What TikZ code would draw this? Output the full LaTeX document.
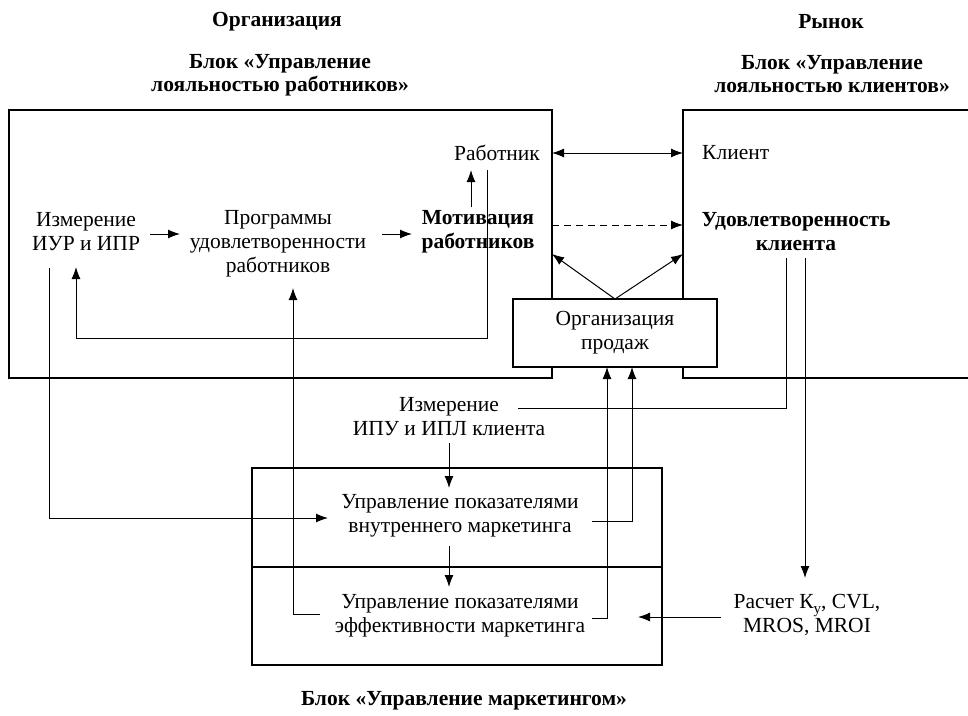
\documentclass[tikz,border=0pt]{standalone}
\usepackage{fontspec}
\setmainfont{Liberation Serif}
\usetikzlibrary{arrows.meta}
\begin{document}
\begin{tikzpicture}[x=1pt,y=-1pt,
  every node/.style={font=\fontsize{21.5}{24}\selectfont, align=center, inner sep=0pt},
  title/.style={font=\fontsize{21.5}{23}\selectfont\bfseries},
  bold/.style={font=\fontsize{21.5}{24}\selectfont\bfseries},
  frame/.style={draw, line width=1.1pt},
  ln/.style={draw, line width=1pt},
  arr/.style={line width=1pt, -{Latex[length=12pt,width=9pt]}},
  darr/.style={line width=1pt, {Latex[length=12pt,width=9pt]}-{Latex[length=12pt,width=9pt]}}]
\useasboundingbox[fill=white] (0,0) rectangle (968,715);

% titles
\node[title] (torg) at (277,22) {Организация};
\node[title] (tblk1) at (280,75) {Блок «Управление\\лояльностью работников»};
\node[title] (trynok) at (831,22) {Рынок};
\node[title] (tblk2) at (832,74) {Блок «Управление\\лояльностью клиентов»};
\node[title] (tblk3) at (464,701) {Блок «Управление маркетингом»};

% big frames
\draw[frame] (9,110) rectangle (552,378);
\draw[frame] (968,110) -- (683,110) -- (683,378) -- (968,378);
\draw[frame] (252,468) rectangle (662,665);
\draw[frame] (252,567) -- (662,567);

% organisation of sales
\node[frame, fill=white, minimum width=204pt, minimum height=68pt] (org) at (615,333) {Организация\\продаж};

% text nodes
\node (izm1) at (86,232) {Измерение\\ИУР и ИПР};
\node (prog) at (278,244) {Программы\\удовлетворенности\\работников};
\node[bold] (motiv) at (478,232) {Мотивация\\работников};
\node (rab) at (497,153) {Работник};
\node[anchor=west] (klient) at (702,153) {Клиент};
\node[bold] (udov) at (796,232) {Удовлетворенность\\клиента};
\node (izm2) at (449,417) {Измерение\\ИПУ и ИПЛ клиента};
\node (upr1) at (460,516) {Управление показателями\\внутреннего маркетинга};
\node (upr2) at (460,616) {Управление показателями\\эффективности маркетинга};
\node (rasch) at (807,615) {Расчет К{\fontsize{15}{15}\selectfont\raisebox{-5pt}{у}}, CVL,\\MROS, MROI};

% coordinates
\coordinate (a1) at (150,234); \coordinate (a2) at (180,234);
\coordinate (b1) at (382,234); \coordinate (b2) at (412,234);
\coordinate (c1) at (471,207); \coordinate (c2) at (471,170);
\coordinate (d1) at (487,170); \coordinate (d2) at (487,338); \coordinate (d3) at (76,338); \coordinate (d4) at (76,267);
\coordinate (e1) at (49,268); \coordinate (e2) at (49,518); \coordinate (e3) at (328,518);
\coordinate (f1) at (320,614); \coordinate (f2) at (293,614); \coordinate (f3) at (293,288);
\coordinate (g1) at (552,153); \coordinate (g2) at (683,153);
\coordinate (h1) at (552,225); \coordinate (h2) at (683,225);
\coordinate (i0) at (615,299); \coordinate (i1) at (552,254); \coordinate (i2) at (683,254);
\coordinate (j1) at (449,443); \coordinate (j2) at (449,488);
\coordinate (k1) at (449,546); \coordinate (k2) at (449,587);
\coordinate (l1) at (786,258); \coordinate (l2) at (786,408); \coordinate (l3) at (518,408);
\coordinate (m1) at (805,258); \coordinate (m2) at (805,578);
\coordinate (n1) at (592,521); \coordinate (n2) at (632,521); \coordinate (n3) at (632,367);
\coordinate (o1) at (592,618); \coordinate (o2) at (607,618); \coordinate (o3) at (607,367);
\coordinate (p1) at (721,617); \coordinate (p2) at (638,617);

% connectors
\draw[arr] (a1) -- (a2);
\draw[arr] (b1) -- (b2);
\draw[arr] (c1) -- (c2);
\draw[arr] (d1) -- (d2) -- (d3) -- (d4);
\draw[arr] (e1) -- (e2) -- (e3);
\draw[arr] (f1) -- (f2) -- (f3);
\draw[darr] (g1) -- (g2);
\draw[arr, dashed, dash pattern=on 7pt off 5pt] (h1) -- (h2);
\draw[arr] (i0) -- (i1);
\draw[arr] (i0) -- (i2);
\draw[arr] (j1) -- (j2);
\draw[arr] (k1) -- (k2);
\draw[ln] (l1) -- (l2) -- (l3);
\draw[arr] (m1) -- (m2);
\draw[arr] (n1) -- (n2) -- (n3);
\draw[arr] (o1) -- (o2) -- (o3);
\draw[arr] (p1) -- (p2);
\end{tikzpicture}
\end{document}
